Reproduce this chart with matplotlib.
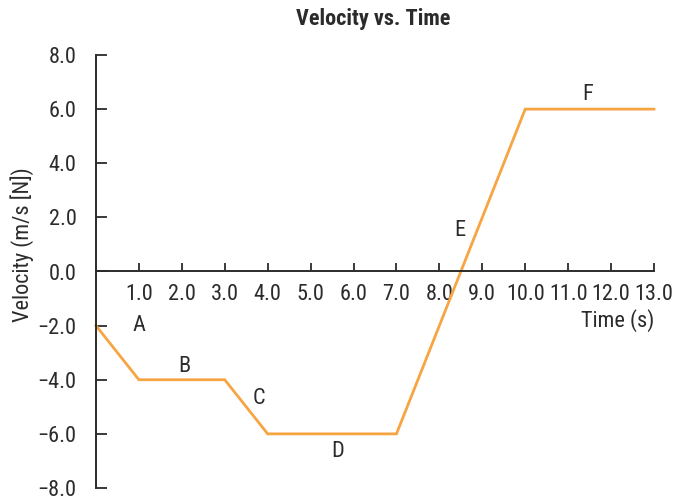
import matplotlib
matplotlib.use("Agg")
import matplotlib.pyplot as plt
from matplotlib import font_manager

# Velocity profile: segment break points
time_s = [0, 1, 3, 4, 7, 10, 13]
velocity = [-2, -4, -4, -6, -6, 6, 6]

# Segment labels and their positions
seg_names = ["A", "B", "C", "D", "E", "F"]
seg_x = [1.0, 2.05, 3.8, 5.62, 8.48, 11.45]
seg_y = [-2.0, -3.5, -4.7, -6.65, 1.5, 6.55]

x_ticks = [1, 2, 3, 4, 5, 6, 7, 8, 9, 10, 11, 12, 13]
y_ticks = [-8, -6, -4, -2, 0, 2, 4, 6, 8]

names = {f.name for f in font_manager.fontManager.ttflist}
fam = [n for n in ["Roboto Condensed", "Archivo Narrow", "PT Sans Narrow"] if n in names][:1]
plt.rcParams["font.family"] = fam + ["DejaVu Sans"]

ink = "#2b2b2b"
orange = "#F7A443"
fs = 16

fig = plt.figure(figsize=(6.73, 4.98), dpi=100)
ax = fig.add_axes([96 / 673, 1 - 488 / 498, (654 - 96) / 673, (488 - 55) / 498])

ax.plot(time_s, velocity, color=orange, lw=2.0, solid_joinstyle="miter", clip_on=False)

ax.set_xlim(0, 13)
ax.set_ylim(-8, 8)

for s in ["top", "right"]:
    ax.spines[s].set_visible(False)
ax.spines["bottom"].set_position(("data", 0))
for s in ["left", "bottom"]:
    ax.spines[s].set_color(ink)
    ax.spines[s].set_linewidth(1.4)

ax.set_xticks(x_ticks)
ax.set_xticklabels([f"{v:.1f}" for v in x_ticks])
ax.set_yticks(y_ticks)
ax.set_yticklabels([f"{v:.1f}".replace("-", "\u2212") for v in y_ticks])
ax.tick_params(axis="x", direction="in", length=6, width=1.3, color=ink,
               labelsize=fs, labelcolor=ink, pad=9)
ax.tick_params(axis="y", direction="in", length=8, width=1.3, color=ink,
               labelsize=fs, labelcolor=ink, pad=14)

for n, x, y in zip(seg_names, seg_x, seg_y):
    ax.text(x, y, n, fontsize=fs, color=ink, ha="center", va="center")

ax.text(13, -1.8, "Time (s)", fontsize=fs, color=ink, ha="right", va="center")

fig.text(373 / 673, 1 - 19 / 498, "Velocity vs. Time", fontsize=fs, fontweight="bold",
         color=ink, ha="center", va="center")
fig.text(22 / 673, 1 - 245 / 498, "Velocity (m/s [N])", fontsize=fs, color=ink,
         rotation=90, ha="center", va="center")

fig.savefig("out.png", dpi=100)
